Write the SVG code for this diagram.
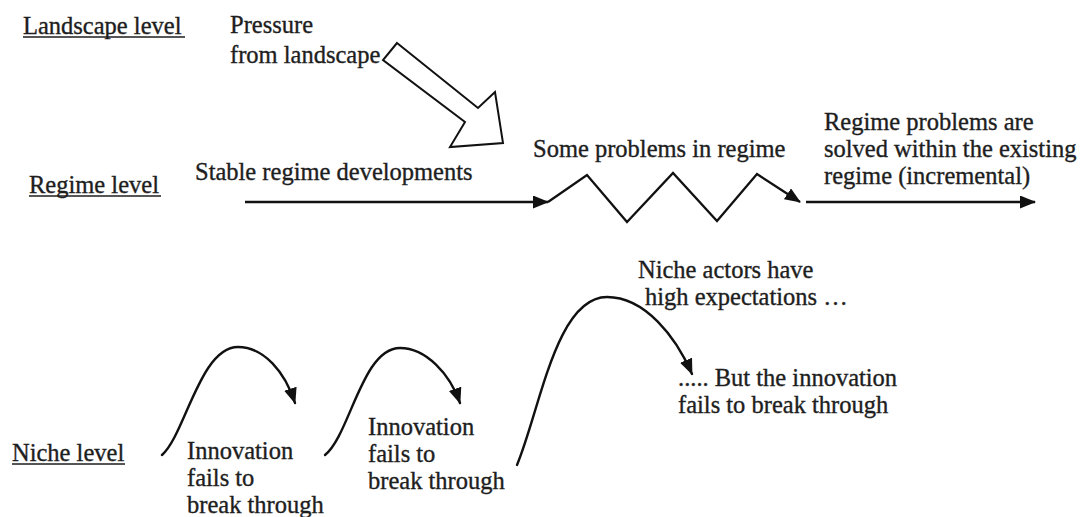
<svg xmlns="http://www.w3.org/2000/svg" width="1087" height="517" viewBox="0 0 1087 517">
  <defs>
    <style>
      .lbl { font-family: "Liberation Serif", "DejaVu Serif", serif; font-size: 24.5px; fill: #1e1e1e; }
      .lbl text { stroke: #1e1e1e; stroke-width: 0.35; }
      .ul { stroke: #1e1e1e; stroke-width: 1.6; }
      .conn { fill: none; stroke: #111; stroke-width: 2.3; stroke-linejoin: miter; }
      .curve { fill: none; stroke: #111; stroke-width: 2.4; stroke-linecap: round; }
    </style>
    <marker id="head" markerUnits="userSpaceOnUse" markerWidth="18" markerHeight="14" refX="15" refY="6.5" orient="auto">
      <path d="M0,0 L16,6.5 L0,13 z" fill="#111"/>
    </marker>
  </defs>
  <rect width="1087" height="517" fill="#fff"/>

  <g class="lbl" font-family="Liberation Serif, DejaVu Serif, serif">
    <!-- level labels -->
    <g id="landscape-level">
      <text x="23" y="34">Landscape level</text>
      <line class="ul" x1="23" y1="37" x2="185" y2="37"/>
    </g>
    <g id="regime-level">
      <text x="29" y="193">Regime level</text>
      <line class="ul" x1="29" y1="196" x2="161" y2="196"/>
    </g>
    <g id="niche-level">
      <text x="12" y="461">Niche level</text>
      <line class="ul" x1="12" y1="464" x2="125" y2="464"/>
    </g>

    <!-- landscape pressure -->
    <g id="pressure">
      <text x="230" y="33">Pressure</text>
      <text x="230" y="63">from landscape</text>
      <polygon points="397,43 478,108 495,92 503,143 450,147 465,122 383,60" fill="#fff" stroke="#111" stroke-width="2" stroke-linejoin="miter"/>
    </g>

    <!-- regime labels -->
    <g id="stable-regime">
      <text x="195" y="180">Stable regime developments</text>
    </g>
    <g id="regime-problems">
      <text x="533" y="157">Some problems in regime</text>
    </g>
    <g id="regime-solved">
      <text x="824" y="130">Regime problems are</text>
      <text x="824" y="157">solved within the existing</text>
      <text x="824" y="184">regime (incremental)</text>
    </g>

    <!-- niche labels -->
    <g id="niche-1">
      <text x="187" y="459">Innovation</text>
      <text x="187" y="486">fails to</text>
      <text x="187" y="513">break through</text>
    </g>
    <g id="niche-2">
      <text x="368" y="435">Innovation</text>
      <text x="368" y="462">fails to</text>
      <text x="368" y="489">break through</text>
    </g>
    <g id="niche-3">
      <text x="638" y="278">Niche actors have</text>
      <text x="645" y="305">high expectations …</text>
      <text x="678" y="386">..... But the innovation</text>
      <text x="678" y="413">fails to break through</text>
    </g>
  </g>

  <!-- connectors -->
  <g id="connectors">
    <line class="conn" x1="245" y1="202" x2="548" y2="202" marker-end="url(#head)"/>
    <polyline class="conn" points="548,202 587,175 627,222 673,173 717,221 757,174 800,202" marker-end="url(#head)"/>
    <line class="conn" x1="806" y1="202" x2="1035" y2="202" marker-end="url(#head)"/>
    <path class="curve" d="M162,455 C185,435 200,347 238,347 C264,347 285,372 295,403" marker-end="url(#head)"/>
    <path class="curve" d="M325,455 C350,435 362,348 400,348 C426,348 450,374 460,403" marker-end="url(#head)"/>
    <path class="curve" d="M517,465 C540,410 556,297 607,297 C645,297 676,337 692,374" marker-end="url(#head)"/>
  </g>
</svg>
